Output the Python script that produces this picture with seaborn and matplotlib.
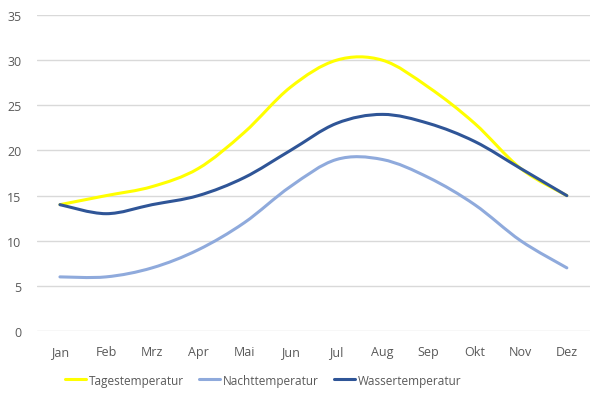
import matplotlib
matplotlib.use("Agg")
import matplotlib.pyplot as plt
import seaborn as sns
from matplotlib.path import Path
from matplotlib.patches import PathPatch
from matplotlib.lines import Line2D

# data
months = ['Jan', 'Feb', 'Mrz', 'Apr', 'Mai', 'Jun', 'Jul', 'Aug', 'Sep', 'Okt', 'Nov', 'Dez']
tages = [14, 15, 16, 18, 22, 27, 30, 30, 27, 23, 18, 15]
nacht = [6, 6, 7, 9, 12, 16, 19, 19, 17, 14, 10, 7]
wasser = [14, 13, 14, 15, 17, 20, 23, 24, 23, 21, 18, 15]

series = [
    ('Tagestemperatur', tages, '#FFFF00'),
    ('Nachttemperatur', nacht, '#8FAADC'),
    ('Wassertemperatur', wasser, '#2F5597'),
]

sns.set_style('white')
plt.rcParams['font.family'] = ['Open Sans', 'DejaVu Sans']

fig = plt.figure(figsize=(6.05, 4.02), dpi=100)
ax = fig.add_axes([0.061, 0.174, 0.914, 0.786])


def smooth_path(xs, ys):
    # Excel-style smoothed line: cubic bezier through every point
    n = len(xs)
    verts = [(xs[0], ys[0])]
    codes = [Path.MOVETO]
    for i in range(n - 1):
        p0 = max(i - 1, 0)
        p3 = min(i + 2, n - 1)
        c1 = (xs[i] + (xs[i + 1] - xs[p0]) / 6, ys[i] + (ys[i + 1] - ys[p0]) / 6)
        c2 = (xs[i + 1] - (xs[p3] - xs[i]) / 6, ys[i + 1] - (ys[p3] - ys[i]) / 6)
        verts += [c1, c2, (xs[i + 1], ys[i + 1])]
        codes += [Path.CURVE4] * 3
    return Path(verts, codes)


xpos = list(range(len(months)))
handles = []
for name, vals, col in series:
    patch = PathPatch(smooth_path(xpos, vals), facecolor='none', edgecolor=col,
                      lw=2.2, capstyle='round', joinstyle='round', zorder=3)
    ax.add_patch(patch)
    handles.append(Line2D([], [], color=col, lw=2.2, label=name))

ax.set_xlim(-0.5, len(months) - 0.5)
ax.set_ylim(0, 35)
ax.set_xticks(xpos)
ax.set_xticklabels(months)
ax.set_yticks(range(0, 36, 5))
ax.yaxis.grid(True, color='#D9D9D9', lw=1)
ax.set_axisbelow(True)
sns.despine(ax=ax, left=True, bottom=True)
ax.tick_params(axis='both', length=0, labelsize=9, colors='#595959')
ax.tick_params(axis='y', pad=11)
ax.tick_params(axis='x', pad=10)

fig.legend(handles=handles, loc='center', bbox_to_anchor=(0.435, 0.052), ncol=3,
           frameon=False, fontsize=8.5, handlelength=1.8, handletextpad=0.2,
           columnspacing=1.3, labelcolor='#595959')

fig.savefig('out.png', dpi=100)
